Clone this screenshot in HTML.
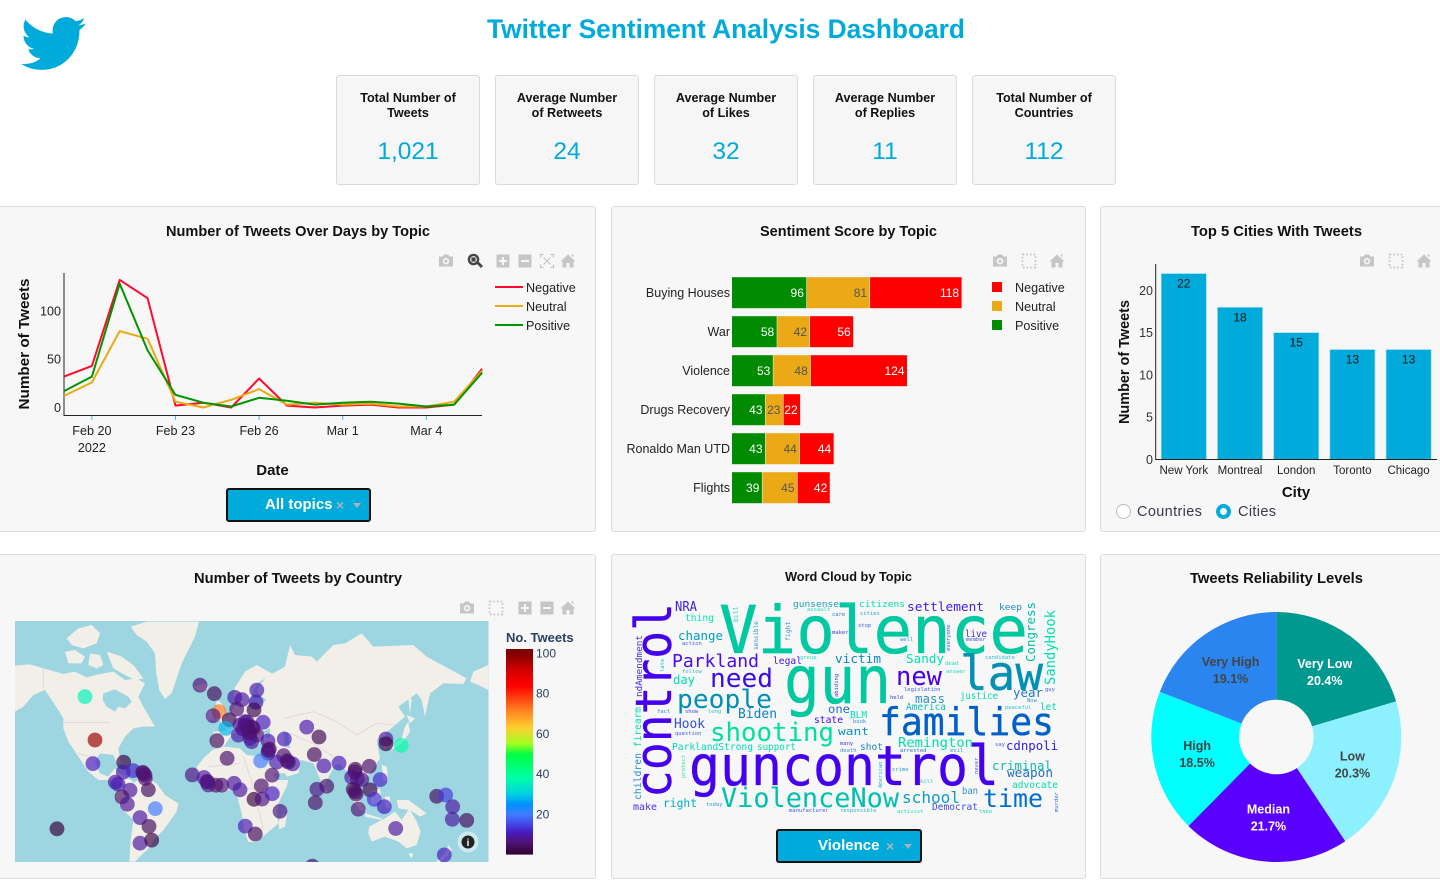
<!DOCTYPE html>
<html lang="en">
<head>
<meta charset="utf-8">
<title>Twitter Sentiment Analysis Dashboard</title>
<style>
html,body{margin:0;padding:0;background:#fff;}
body{position:relative;width:1440px;height:891px;overflow:hidden;font-family:"Liberation Sans",sans-serif;color:#222;}
.card{position:absolute;background:#f7f7f7;border:1px solid #dcdcdc;border-radius:3px;box-sizing:border-box;overflow:hidden;}
.card svg{position:absolute;left:-1px;top:-1px;}
.kpi{position:absolute;top:75px;width:144px;height:110px;background:#f6f6f6;border:1px solid #dadada;border-radius:3px;box-sizing:border-box;text-align:center;}
.kpi-label{position:absolute;left:0;right:0;top:15px;font-weight:bold;font-size:12.6px;line-height:15px;color:#111;}
.kpi-value{position:absolute;left:0;right:0;top:61px;font-size:24.5px;line-height:30px;color:#00abdc;}
.dropdown{position:absolute;height:34px;background:#00abdc;border:2px solid #111;border-radius:3px;box-sizing:border-box;color:#fff;font-weight:bold;font-size:15px;line-height:30px;}
.dropdown .lab{position:absolute;top:0;}
.dropdown .clr{position:absolute;top:0;color:#a9b4b8;font-size:14px;}
.dropdown .car{position:absolute;top:13px;width:0;height:0;border:4px solid transparent;border-top:5px solid #a9b4b8;border-bottom:0;}
.radio{position:absolute;width:15px;height:15px;border-radius:50%;box-sizing:border-box;background:#fff;border:1px solid #bbb;}
.radio.on{border:4px solid #00abdc;}
.radio-label{position:absolute;font-size:14.5px;line-height:18px;color:#3a3a4a;letter-spacing:.35px;}
text{font-family:"Liberation Sans",sans-serif;}
.tool{color:#c6c6c6;}
#cloud text{font-family:"DejaVu Sans Mono","Liberation Mono",monospace;}
#cloud .big{stroke-width:.35;}
</style>
</head>
<body>

<svg width="0" height="0" style="position:absolute">
  <symbol id="i-cam" viewBox="-8 -8 16 16"><path fill="currentColor" fill-rule="evenodd" d="M-7-4.5h3.5L-2-6.5h4L3.5-4.5H7V5.5H-7ZM0-3a3.2 3.2 0 1 0 .01 0ZM0-1.4a1.6 1.6 0 1 1-.01 0Z"/></symbol>
  <symbol id="i-zoom" viewBox="-8 -8 16 16"><circle cx="-1.5" cy="-1.5" r="4.6" fill="none" stroke="currentColor" stroke-width="2.4"/><rect x="-3.6" y="-3.6" width="4.2" height="4.2" fill="currentColor"/><path d="M2-.0L7 5" transform="translate(0 1)" stroke="currentColor" stroke-width="2.8"/></symbol>
  <symbol id="i-plus" viewBox="-8 -8 16 16"><path fill="currentColor" fill-rule="evenodd" d="M-6.5-6.5h13v13h-13ZM-1-4v3h-3v2h3v3h2V1h3v-2H1v-3Z"/></symbol>
  <symbol id="i-minus" viewBox="-8 -8 16 16"><path fill="currentColor" fill-rule="evenodd" d="M-6.5-6.5h13v13h-13ZM-4-1v2h8v-2Z"/></symbol>
  <symbol id="i-auto" viewBox="-8 -8 16 16"><path fill="none" stroke="currentColor" stroke-width="1.2" d="M-6.500-3.500v-3h3M3.500-6.500h3v3M6.500 3.500v3h-3M-3.500 6.500h-3v-3M-3.500-3.500 3.500 3.500M3.500-3.500-3.500 3.500"/></symbol>
  <symbol id="i-home" viewBox="-8 -8 16 16"><path fill="currentColor" d="M0-6.5 7.5 0.5H5.5V6.5H1.5V2H-1.5V6.5H-5.5V0.5H-7.5ZM3.5-6.5h2v3l-2-2Z"/></symbol>
  <symbol id="i-box" viewBox="-8 -8 16 16"><rect x="-6.5" y="-6.5" width="13" height="13" fill="none" stroke="currentColor" stroke-width="1.7" stroke-dasharray="1.7 2"/></symbol>
</svg>

<svg style="position:absolute;left:21px;top:11px" width="65" height="65" viewBox="0 0 24 24"><path fill="#00abdc" d="M23.953 4.57a10 10 0 01-2.825.775 4.958 4.958 0 002.163-2.723c-.951.555-2.005.959-3.127 1.184a4.92 4.92 0 00-8.384 4.482C7.69 8.095 4.067 6.13 1.64 3.162a4.822 4.822 0 00-.666 2.475c0 1.71.87 3.213 2.188 4.096a4.904 4.904 0 01-2.228-.616v.06a4.923 4.923 0 003.946 4.827 4.996 4.996 0 01-2.212.085 4.936 4.936 0 004.604 3.417 9.867 9.867 0 01-6.102 2.105c-.39 0-.779-.023-1.17-.067a13.995 13.995 0 007.557 2.209c9.053 0 13.998-7.496 13.998-13.985 0-.21 0-.42-.015-.63A9.935 9.935 0 0024 4.59z"/></svg>

<svg style="position:absolute;left:400px;top:8px" width="660" height="44" viewBox="400 8 660 44"><text x="487" y="38" font-size="27" font-weight="bold" fill="#00abdc" textLength="478" lengthAdjust="spacingAndGlyphs">Twitter Sentiment Analysis Dashboard</text></svg>

<div class="kpi" style="left:336px"><div class="kpi-label">Total Number of<br>Tweets</div><div class="kpi-value">1,021</div></div>
<div class="kpi" style="left:495px"><div class="kpi-label">Average Number<br>of Retweets</div><div class="kpi-value">24</div></div>
<div class="kpi" style="left:654px"><div class="kpi-label">Average Number<br>of Likes</div><div class="kpi-value">32</div></div>
<div class="kpi" style="left:813px"><div class="kpi-label">Average Number<br>of Replies</div><div class="kpi-value">11</div></div>
<div class="kpi" style="left:972px"><div class="kpi-label">Total Number of<br>Countries</div><div class="kpi-value">112</div></div>

<!-- Line chart card -->
<div class="card" style="left:-1px;top:206px;width:597px;height:326px">
<svg id="lineSvg" width="597" height="326" viewBox="-1 206 597 326">
  <text x="166" y="236" font-size="15" font-weight="bold" fill="#111" textLength="264" lengthAdjust="spacingAndGlyphs">Number of Tweets Over Days by Topic</text>
  <g class="tool">
    <use href="#i-cam" x="438" y="253" width="16" height="16"/>
    <use href="#i-zoom" x="467" y="253" width="16" height="16" style="color:#444"/>
    <use href="#i-plus" x="495" y="253" width="16" height="16"/>
    <use href="#i-minus" x="517" y="253" width="16" height="16"/>
    <use href="#i-auto" x="539" y="253" width="16" height="16"/>
    <use href="#i-home" x="560" y="253" width="16" height="16"/>
  </g>
  <text transform="rotate(-90 29 344)" x="29" y="344" font-size="15" font-weight="bold" text-anchor="middle" fill="#111" textLength="131" lengthAdjust="spacingAndGlyphs">Number of Tweets</text>
  <text x="272.500" y="475" font-size="15" font-weight="bold" text-anchor="middle" fill="#111">Date</text>
</svg>
</div>
<div class="dropdown" style="left:226px;top:488px;width:145px"><span class="lab" style="left:37px">All topics</span><span class="clr" style="left:108px">×</span><span class="car" style="left:125px"></span></div>

<!-- Sentiment card -->
<div class="card" style="left:611px;top:206px;width:475px;height:326px">
<svg id="barSvg" width="475" height="326" viewBox="611 206 475 326">
  <text x="760" y="236" font-size="15" font-weight="bold" fill="#111" textLength="177" lengthAdjust="spacingAndGlyphs">Sentiment Score by Topic</text>
  <g class="tool">
    <use href="#i-cam" x="992" y="253" width="16" height="16"/>
    <use href="#i-box" x="1021" y="253" width="16" height="16"/>
    <use href="#i-home" x="1049" y="253" width="16" height="16"/>
  </g>
</svg>
</div>

<!-- Cities card -->
<div class="card" style="left:1100px;top:206px;width:345px;height:326px">
<svg id="citySvg" width="345" height="326" viewBox="1100 206 345 326">
  <text x="1191" y="236" font-size="15" font-weight="bold" fill="#111" textLength="171" lengthAdjust="spacingAndGlyphs">Top 5 Cities With Tweets</text>
  <g class="tool">
    <use href="#i-cam" x="1359" y="253" width="16" height="16"/>
    <use href="#i-box" x="1388" y="253" width="16" height="16"/>
    <use href="#i-home" x="1416" y="253" width="16" height="16"/>
  </g>
  <text transform="rotate(-90 1129 362)" x="1129" y="362" font-size="15" font-weight="bold" text-anchor="middle" fill="#111" textLength="124" lengthAdjust="spacingAndGlyphs">Number of Tweets</text>
  <text x="1296" y="497" font-size="15" font-weight="bold" text-anchor="middle" fill="#111">City</text>
</svg>
</div>
<div class="radio" style="left:1116px;top:504px"></div>
<div class="radio-label" style="left:1137px;top:503px">Countries</div>
<div class="radio on" style="left:1216px;top:504px"></div>
<div class="radio-label" style="left:1238px;top:503px">Cities</div>

<!-- Map card -->
<div class="card" style="left:-1px;top:554px;width:597px;height:325px">
<svg id="mapSvg" width="597" height="325" viewBox="-1 554 597 325">
  <defs><clipPath id="mapClip"><rect x="15" y="621" width="473.500" height="241"/></clipPath></defs>
  <text x="194" y="583" font-size="15" font-weight="bold" fill="#111" textLength="208" lengthAdjust="spacingAndGlyphs">Number of Tweets by Country</text>
  <g class="tool">
    <use href="#i-cam" x="459" y="600" width="16" height="16"/>
    <use href="#i-box" x="488" y="600" width="16" height="16"/>
    <use href="#i-plus" x="517" y="600" width="16" height="16"/>
    <use href="#i-minus" x="539" y="600" width="16" height="16"/>
    <use href="#i-home" x="560" y="600" width="16" height="16"/>
  </g>
  <g clip-path="url(#mapClip)" id="mapLayer">
    <rect x="15" y="621" width="474" height="241" fill="#9dd5e1"/>
    <g transform="translate(0 600) scale(.33333)" fill="#f2efe9">
      <polygon points="45,197 90,193 130,205 190,222 225,215 260,232 300,222 340,215 375,240 410,235 435,250 415,290 430,320 465,380 430,380 400,385 375,410 355,445 362,490 350,490 340,465 300,460 285,485 300,520 325,530 345,505 360,520 385,535 400,545 395,555 365,550 330,540 295,540 265,515 235,470 205,425 190,385 190,355 165,315 135,270 100,285 70,320 45,335"/>
      <polygon points="200,115 235,85 275,75 300,100 290,130 250,145 215,135"/>
      <polygon points="195,155 225,150 255,170 245,190 205,190"/>
      <polygon points="270,160 300,165 310,195 290,205 265,195"/>
      <polygon points="320,155 365,170 400,195 430,235 405,240 375,225 340,205"/>
      <polygon points="392,80 440,65 597,65 585,110 545,190 515,280 495,297 478,270 468,215 465,160 440,125 410,105"/>
      <polygon points="395,552 430,530 470,550 495,585 535,610 530,635 505,670 490,690 465,715 445,745 420,770 405,785 388,785 392,720 400,660 365,625 345,590 360,565 375,555"/>
      <polygon points="640,448 675,440 720,445 740,465 790,470 800,480 830,540 865,540 860,560 835,610 830,640 835,670 800,700 770,726 745,726 732,690 725,640 712,590 695,570 650,575 605,560 590,530 590,500 615,470"/>
      <polygon points="848,642 862,640 855,680 838,688 835,665"/>
      <polygon points="900,215 865,235 835,255 845,235 815,220 770,195 735,215 705,262 700,285 715,312 700,322 690,345 660,362 680,392 640,395 632,430 645,445 672,438 695,405 720,390 745,425 755,420 775,438 790,405 795,440 840,440 835,470 860,530 895,520 900,500"/>
      <polygon points="650,300 665,310 680,350 650,365 648,335"/><polygon points="622,335 640,330 640,360 620,362"/><polygon points="580,260 615,250 625,265 600,275"/>
      <polygon fill="#9dd5e1" points="310,280 345,268 385,290 395,305 375,325 355,320 345,335 320,320 308,300"/>
      <polygon fill="#9dd5e1" points="745,325 750,295 772,250 795,235 770,270 785,290 800,300 780,312 775,330"/>
      <polygon fill="#9dd5e1" points="790,395 820,380 860,395 870,410 830,405 800,415"/>
      <path fill="none" stroke="#e2d2da" stroke-width="2.500" d="M130 205V265M190 368H330M235 460L300 480M625 500L720 490M730 470L760 560M700 560L800 570M760 560L790 690"/>
    </g>
    <g transform="translate(270 600) scale(.33333)" fill="#f2efe9">
      <polygon points="0,225 45,200 60,135 75,165 125,170 140,185 190,135 225,130 275,100 310,140 430,135 470,170 590,235 580,252 520,250 480,280 465,350 455,300 440,280 385,320 405,350 360,388 345,400 360,430 345,447 328,425 335,410 320,420 330,475 300,520 270,550 262,530 245,590 268,610 235,560 235,520 210,490 195,495 160,560 130,490 95,480 75,490 50,520 20,520 0,520"/>
      <polygon points="235,565 258,585 290,635 270,630 235,585"/><polygon points="285,640 335,655 335,660 285,650"/><polygon points="300,575 330,565 335,600 305,615"/><polygon points="345,590 360,590 360,625 345,620"/><polygon points="335,495 350,500 355,545 340,540"/><polygon points="380,600 415,600 470,640 450,650 420,630 385,625"/><polygon points="415,365 420,395 400,425 365,450 360,440 395,415 405,380"/><polygon points="410,345 435,355 420,370"/><polygon points="415,295 425,295 420,345"/><polygon points="165,560 175,575 165,580"/>
      <polygon points="297,680 345,655 375,635 395,660 418,625 440,665 452,695 440,735 410,745 385,725 345,710 305,725 295,700"/><polygon points="415,760 430,760 425,775"/><polygon points="535,735 545,750 530,770 500,795 495,790 525,760"/><polygon points="610,215 655,195 655,270 625,255 600,245"/>
      <polygon fill="#9dd5e1" points="40,395 55,400 60,445 45,440"/>
      <path fill="none" stroke="#e2d2da" stroke-width="2.500" d="M40 355L130 335L200 365L260 405L320 370L375 375M60 400L130 430L190 470"/>
    </g>
  </g>
  <circle cx="468" cy="842" r="10.500" fill="#fff" fill-opacity=".5"/>
  <circle cx="468" cy="842" r="6.500" fill="#222"/>
  <text x="468" y="846" font-size="10" font-weight="bold" text-anchor="middle" fill="#fff">i</text>
  <text x="506" y="642" font-size="13" font-weight="bold" fill="#2a3f5f">No. Tweets</text>
</svg>
</div>

<!-- Word cloud card -->
<div class="card" style="left:611px;top:554px;width:475px;height:325px">
<svg id="cloud" width="475" height="325" viewBox="611 554 475 325">
  <defs><filter id="soft" x="-2%" y="-2%" width="104%" height="104%"><feGaussianBlur stdDeviation=".35"/></filter></defs>
  <text x="785" y="581" font-size="13" font-weight="bold" fill="#111" textLength="127" lengthAdjust="spacingAndGlyphs" style="font-family:'Liberation Sans',sans-serif">Word Cloud by Topic</text>
  <g filter="url(#soft)">
    <text class="big" x="719" y="653" font-size="66" fill="#00c8a0" stroke="#00c8a0" textLength="309" lengthAdjust="spacingAndGlyphs">Violence</text>
    <text class="big" x="784" y="703" font-size="66" fill="#00c8a0" stroke="#00c8a0" textLength="107" lengthAdjust="spacingAndGlyphs">gun</text>
    <text class="big" x="960" y="690" font-size="48" fill="#0090b4" stroke="#0090b4" textLength="83" lengthAdjust="spacingAndGlyphs">law</text>
    <text class="big" x="879" y="735" font-size="38" fill="#0060c8" stroke="#0060c8" textLength="175" lengthAdjust="spacingAndGlyphs">families</text>
    <text class="big" x="689" y="785" font-size="55" fill="#4400f0" stroke="#4400f0" textLength="310" lengthAdjust="spacingAndGlyphs">guncontrol</text>
    <text class="big" x="671" y="798" transform="rotate(-90 671 798)" font-size="50" fill="#4400f0" stroke="#4400f0" textLength="195" lengthAdjust="spacingAndGlyphs">control</text>
    <text x="710" y="687" font-size="26" fill="#3a10e0" textLength="63" lengthAdjust="spacingAndGlyphs">need</text>
    <text x="677" y="708" font-size="26" fill="#0090b4" textLength="95" lengthAdjust="spacingAndGlyphs">people</text>
    <text x="710" y="741" font-size="26" fill="#00e0a0" textLength="124" lengthAdjust="spacingAndGlyphs">shooting</text>
    <text x="721" y="807" font-size="27" fill="#00c0b0" textLength="178" lengthAdjust="spacingAndGlyphs">ViolenceNow</text>
    <text x="672" y="667" font-size="18" fill="#4a10f0" textLength="87" lengthAdjust="spacingAndGlyphs">Parkland</text>
    <text x="678" y="640" font-size="12.500" fill="#00a0b8" textLength="45" lengthAdjust="spacingAndGlyphs">change</text>
    <text x="675" y="611" font-size="13" fill="#3a20d8" textLength="22" lengthAdjust="spacingAndGlyphs">NRA</text>
    <text x="685" y="621" font-size="9.500" fill="#00e8b0" textLength="29" lengthAdjust="spacingAndGlyphs">thing</text>
    <text x="673" y="684" font-size="12" fill="#00e0b0" textLength="22" lengthAdjust="spacingAndGlyphs">day</text>
    <text x="738" y="718" font-size="13" fill="#1080c8" textLength="39" lengthAdjust="spacingAndGlyphs">Biden</text>
    <text x="674" y="728" font-size="13" fill="#3050d8" textLength="31" lengthAdjust="spacingAndGlyphs">Hook</text>
    <text x="672" y="750" font-size="9.500" fill="#00d8c0" textLength="81" lengthAdjust="spacingAndGlyphs">ParklandStrong</text>
    <text x="757" y="750" font-size="9.500" fill="#00e0b0" textLength="39" lengthAdjust="spacingAndGlyphs">support</text>
    <text x="663" y="807" font-size="11.500" fill="#00b0c0" textLength="34" lengthAdjust="spacingAndGlyphs">right</text>
    <text x="633" y="810" font-size="9.500" fill="#5030e0" textLength="24" lengthAdjust="spacingAndGlyphs">make</text>
    <text x="773" y="664" font-size="9.500" fill="#4818e8" textLength="29" lengthAdjust="spacingAndGlyphs">legal</text>
    <text x="828" y="713" font-size="11.500" fill="#2070c8" textLength="22" lengthAdjust="spacingAndGlyphs">one</text>
    <text x="814" y="723" font-size="9.500" fill="#4010e8" textLength="29" lengthAdjust="spacingAndGlyphs">state</text>
    <text x="835" y="663" font-size="12" fill="#1088c0" textLength="46" lengthAdjust="spacingAndGlyphs">victim</text>
    <text x="793" y="607" font-size="8.500" fill="#20a0b8" textLength="46" lengthAdjust="spacingAndGlyphs">gunsense</text>
    <text x="859" y="607" font-size="8.500" fill="#00e0a8" textLength="46" lengthAdjust="spacingAndGlyphs">citizens</text>
    <text x="907" y="611" font-size="12" fill="#4020e0" textLength="77" lengthAdjust="spacingAndGlyphs">settlement</text>
    <text x="999" y="610" font-size="9" fill="#2090c8" textLength="23" lengthAdjust="spacingAndGlyphs">keep</text>
    <text x="1035" y="662" transform="rotate(-90 1035 662)" font-size="12.500" fill="#00c0a8" textLength="60" lengthAdjust="spacingAndGlyphs">Congress</text>
    <text x="1055" y="685" transform="rotate(-90 1055 685)" font-size="14" fill="#00e0b8" textLength="75" lengthAdjust="spacingAndGlyphs">SandyHook</text>
    <text x="965" y="637" font-size="9.500" fill="#4828d8" textLength="22" lengthAdjust="spacingAndGlyphs">live</text>
    <text x="906" y="663" font-size="12.500" fill="#00e0b0" textLength="38" lengthAdjust="spacingAndGlyphs">Sandy</text>
    <text x="896" y="685" font-size="26" fill="#4800e8" textLength="46" lengthAdjust="spacingAndGlyphs">new</text>
    <text x="915" y="703" font-size="12.500" fill="#3090c0" textLength="30" lengthAdjust="spacingAndGlyphs">mass</text>
    <text x="960" y="699" font-size="9.500" fill="#00e0b0" textLength="38" lengthAdjust="spacingAndGlyphs">justice</text>
    <text x="1013" y="697" font-size="12.500" fill="#2078c8" textLength="30" lengthAdjust="spacingAndGlyphs">year</text>
    <text x="1040" y="710" font-size="9.500" fill="#00d8b0" textLength="17" lengthAdjust="spacingAndGlyphs">let</text>
    <text x="906" y="710" font-size="9.500" fill="#10b8b8" textLength="40" lengthAdjust="spacingAndGlyphs">America</text>
    <text x="850" y="718" font-size="10" fill="#00e0c0" textLength="17" lengthAdjust="spacingAndGlyphs">BLM</text>
    <text x="838" y="735" font-size="11" fill="#1090c0" textLength="31" lengthAdjust="spacingAndGlyphs">want</text>
    <text x="860" y="750" font-size="9.500" fill="#2080c8" textLength="23" lengthAdjust="spacingAndGlyphs">shot</text>
    <text x="898" y="747" font-size="13.500" fill="#00e0a8" textLength="75" lengthAdjust="spacingAndGlyphs">Remington</text>
    <text x="1006" y="750" font-size="12" fill="#3020e8" textLength="52" lengthAdjust="spacingAndGlyphs">cdnpoli</text>
    <text x="992" y="770" font-size="12" fill="#10b8b0" textLength="60" lengthAdjust="spacingAndGlyphs">criminal</text>
    <text x="1007" y="777" font-size="12" fill="#2070c8" textLength="46" lengthAdjust="spacingAndGlyphs">weapon</text>
    <text x="1012" y="788" font-size="9.500" fill="#00e0a8" textLength="46" lengthAdjust="spacingAndGlyphs">advocate</text>
    <text x="902" y="803" font-size="16" fill="#10a0c0" textLength="58" lengthAdjust="spacingAndGlyphs">school</text>
    <text x="983" y="807" font-size="25" fill="#0070d0" textLength="60" lengthAdjust="spacingAndGlyphs">time</text>
    <text x="962" y="794" font-size="9.500" fill="#3090c8" textLength="16" lengthAdjust="spacingAndGlyphs">ban</text>
    <text x="932" y="810" font-size="9.500" fill="#4050d8" textLength="46" lengthAdjust="spacingAndGlyphs">Democrat</text>
    <text x="642" y="697" transform="rotate(-90 642 697)" font-size="9" fill="#4030e0" textLength="62" lengthAdjust="spacingAndGlyphs">ndAmendment</text>
    <text x="641" y="747" transform="rotate(-90 641 747)" font-size="9.500" fill="#00e0b0" textLength="40" lengthAdjust="spacingAndGlyphs">firearm</text>
    <text x="641" y="800" transform="rotate(-90 641 800)" font-size="9.500" fill="#2090c8" textLength="47" lengthAdjust="spacingAndGlyphs">children</text>
    <g font-size="5.500" fill="#5088e0">
      <text x="682" y="645" fill="#4060e0">action</text>
      <text x="682" y="673" fill="#30b8d0">follow</text>
      <text x="657" y="713" fill="#3090d0">fact</text>
      <text x="685" y="713" fill="#5040e0">show</text>
      <text x="708" y="713" fill="#30c0d0">long</text>
      <text x="675" y="735" fill="#4060e0">question</text>
      <text x="706" y="806" fill="#30a0d0">today</text>
      <text x="789" y="812" fill="#4060e0">manufacturer</text>
      <text x="840" y="812" fill="#30b0d0">responsible</text>
      <text x="807" y="611" fill="#20e0c0">assault</text>
      <text x="800" y="659" fill="#20e0c0">group</text>
      <text x="860" y="615" fill="#30a0d0">cities</text>
      <text x="858" y="627" fill="#4060e0">stop</text>
      <text x="832" y="616" fill="#3080d0">care</text>
      <text x="832" y="634" fill="#4040e0">maker</text>
      <text x="900" y="641" fill="#3090d0">well</text>
      <text x="966" y="641" fill="#4060e0">member</text>
      <text x="985" y="659" fill="#30c0d0">candidate</text>
      <text x="945" y="665" fill="#20e0b0">dead</text>
      <text x="946" y="673" fill="#20e0b0">answer</text>
      <text x="904" y="691" fill="#4060e0">legislation</text>
      <text x="890" y="699" fill="#4040e0">held</text>
      <text x="1027" y="702" fill="#3090d0">Now</text>
      <text x="1005" y="709" fill="#30c0d0">peaceful</text>
      <text x="1045" y="691" fill="#4060e0">guy</text>
      <text x="853" y="723" fill="#3090d0">book</text>
      <text x="995" y="746" fill="#4060e0">say</text>
      <text x="840" y="745" fill="#4040e0">many</text>
      <text x="840" y="752" fill="#4090d0">death</text>
      <text x="900" y="752" fill="#3070d0">arrested</text>
      <text x="950" y="752" fill="#3090d0">evil</text>
      <text x="892" y="771" fill="#30a0d0">crime</text>
      <text x="920" y="783" fill="#20d0b0">kill</text>
      <text x="897" y="813" fill="#20e0b0">activist</text>
      <text x="979" y="813" fill="#30d0d0">take</text>
      <text x="738" y="622" transform="rotate(-90 738 622)" font-size="6.500" fill="#20d0b0">bill</text>
      <text x="758" y="650" transform="rotate(-90 758 650)" font-size="6" fill="#3090d0">sensible</text>
      <text x="790" y="641" transform="rotate(-90 790 641)" font-size="6.500" fill="#3090d0">fight</text>
      <text x="838" y="697" transform="rotate(-90 838 697)" fill="#4040e0">abiding</text>
      <text x="685" y="778" transform="rotate(-90 685 778)" fill="#20e0b0">protect</text>
      <text x="664" y="672" transform="rotate(-90 664 672)" fill="#20c0d0">late</text>
      <text x="950" y="651" transform="rotate(-90 950 651)" fill="#4050e0">everyone</text>
      <text x="978" y="774" transform="rotate(-90 978 774)" fill="#4060e0">never</text>
      <text x="882" y="788" transform="rotate(-90 882 788)" fill="#30b0d0">American</text>
      <text x="1058" y="812" transform="rotate(-90 1058 812)" fill="#3070d0">murder</text>
    </g>
  </g>
</svg>
</div>
<div class="dropdown" style="left:776px;top:829px;width:146px"><span class="lab" style="left:40px">Violence</span><span class="clr" style="left:108px">×</span><span class="car" style="left:126px"></span></div>

<!-- Pie card -->
<div class="card" style="left:1100px;top:554px;width:345px;height:325px">
<svg id="pieSvg" width="345" height="325" viewBox="1100 554 345 325">
  <text x="1190" y="583" font-size="15" font-weight="bold" fill="#111" textLength="173" lengthAdjust="spacingAndGlyphs">Tweets Reliability Levels</text>
</svg>
</div>

<script>
/* ---------- line chart data ---------- */
const lineDates = ['2022-02-19','2022-02-20','2022-02-21','2022-02-22','2022-02-23','2022-02-24','2022-02-25','2022-02-26','2022-02-27','2022-02-28','2022-03-01','2022-03-02','2022-03-03','2022-03-04','2022-03-05','2022-03-06'];
const lineNegative = [32,43,132,113,2,5,0,30,2,0,2,3,0,0,3,40];
const lineNeutral = [12,26,79,71,6,0,8,19,3,5,3,4,1,1,6,38];
const linePositive = [17,32,128,59,13,5,1,10,7,3,5,6,4,1,3,36];
const lineYTicks = [0,50,100];
const lineXTickDates = ['2022-02-20','2022-02-23','2022-02-26','2022-03-01','2022-03-04'];
const lineXTickLabels = ['Feb 20','Feb 23','Feb 26','Mar 1','Mar 4'];
const lineSeriesNames = ['Negative','Neutral','Positive'];

/* ---------- sentiment bars data ---------- */
const barTopics = ['Buying Houses','War','Violence','Drugs Recovery','Ronaldo Man UTD','Flights'];
const barPositive = [96,58,53,43,43,39];
const barNeutral = [81,42,48,23,44,45];
const barNegative = [118,56,124,22,44,42];

/* ---------- cities data ---------- */
const cityNames = ['New York','Montreal','London','Toronto','Chicago'];
const cityTweets = [22,18,15,13,13];
const cityYTicks = [0,5,10,15,20];

/* ---------- map data ---------- */
const mapLons = [-17,-5.9,9.8,15.4,26.8,26.2,24.7,11.3,-2.3,-6.9,5.6,2.9,-3.9,31.8,13.9,19.5,20.3,24.1,17.7,12.6,21.6,26.8,22.9,35.5,48,36.5,35.5,29.8,47.6,42.2,50.3,54.5,3.9,38.6,-22.9,-13.9,-11,-10.6,-4.6,-0.2,9.3,13.9,30.3,24.7,31,38.8,44.7,18,25.7,-105.6,-97.9,-99.5,-75.8,-76.1,-68.4,-61.1,-59.4,-59.1,-82.3,-80.2,-70.9,-56.8,-77.1,-73,-51.4,-63.2,-56.3,-63.2,-54.2,-127.2,65.3,74.8,71.2,78.6,90.2,113.6,102.8,100,104.3,107.7,122,80.7,73.2,71.9,101.2,103.3,114.1,117.4,125.1,105,126.4,126.4,138.2,133.9,165.5,172.5,177.9,177.6,188.7,171.4,69.6,17.7,20,16.2,21.6,19.3,23.1,51.1,35.7,-60.7,-11.8,102.5,102.5];
const mapLats = [64.3,61.3,59.9,59,62.6,58,54.7,55,53.9,52,50,45.6,38.6,48.8,47.4,46.5,43.7,45.6,49.1,41.9,40,41.9,38,38.4,39.6,33.4,30.7,25.4,29,24.5,25.6,23.3,27.2,15.1,15.3,13.4,10.2,7.7,7.5,7.5,9,4,7,-3.3,-3.1,1,-12.5,-23.3,-28.8,60.2,39,23.5,24.5,17.4,18.4,17.2,15.2,12.7,9.9,8.4,3.7,4,-1.5,-7.1,-10.4,-17.2,-23.5,-34.8,-32.8,-25.2,46.3,40.8,29.8,21.9,23.8,21.6,19.4,13.6,12.3,11.8,11.8,6.8,4.4,-5.9,4.4,0.8,3.9,-3.3,-9,-10.8,39.6,36.7,35.7,-25,-1,0,-9,-18.4,-19.2,-41.9,-48,47.4,45.2,45.2,43,49,46.3,24.5,32.4,16.4,10.2,17.5,2.5];
const mapTweets = [6,4,9,9,10,10,3,6,72,7,3,28,4,11,9,5,9,8,9,10,7,6,9,10,11,4,9,20,6,10,5,10,5,6,7,9,5,8,5,6,9,9,5,2,7,11,7,10,4,36,97,11,2,10,12,3,5,6,10,10,9,4,5,8,20,9,4,9,2,1,10,3,4,10,11,5,3,9,8,7,12,5,7,5,4,4,3,13,11,6,9,2,38,9,4,14,9,9,4,11,5,6,5,7,6,7,5,5,6,6,7,5,5];
const colorbarTicks = [20,40,60,80,100];

/* ---------- donut data ---------- */
const pieLabels = ['Very Low','Low','Median','High','Very High'];
const pieShares = [20.4,20.3,21.7,18.5,19.1];

const NS = 'http://www.w3.org/2000/svg';
function mk(tag, attrs, parent, txt){
  const el = document.createElementNS(NS, tag);
  for (const k in attrs) el.setAttribute(k, attrs[k]);
  if (txt !== undefined) el.textContent = txt;
  parent.appendChild(el);
  return el;
}
const INK = '#222';
const TICK = 12.6;

/* ---------- line chart ---------- */
(function(){
  const svg = document.getElementById('lineSvg');
  const day = d => Date.parse(d + 'T00:00:00Z') / 864e5;
  const d0 = day(lineDates[0]);
  const xLine = d => 64 + (day(d) - d0) * 27.87;
  const yLine = v => 407.5 - v * 0.967;
  let el;
  lineYTicks.forEach(t => {
    el = mk('text', {x:61, y:yLine(t)+4.5, 'font-size':TICK, 'text-anchor':'end', fill:INK}, svg, t);
    
    
  });
  lineXTickDates.forEach((d,i) => {
    el = mk('line', {x1:xLine(d), x2:xLine(d), y1:415, y2:420, stroke:'#3fc1d0', 'stroke-width':1}, svg);
    
    
    el = mk('text', {x:xLine(d), y:435, 'font-size':TICK, 'text-anchor':'middle', fill:INK}, svg, lineXTickLabels[i]);
    
    
  });
  el = mk('text', {x:xLine(lineXTickDates[0]), y:452, 'font-size':TICK, 'text-anchor':'middle', fill:INK}, svg, '2022');
  
  
  el = mk('path', {d:'M64 273V415.500H482', fill:'none', stroke:'#222', 'stroke-width':1}, svg);
  
  
  const series = [lineNegative, lineNeutral, linePositive];
  const colors = ['#ff0a2a','#eba916','#009400'];
  series.forEach((vals,s) => {
    const pts = vals.map((v,i) => xLine(lineDates[i]).toFixed(1) + ',' + yLine(v).toFixed(1)).join(' ');
    el = mk('polyline', {points:pts, fill:'none', stroke:colors[s], 'stroke-width':2, 'stroke-linejoin':'round'}, svg);
    
    
    el = mk('line', {x1:495, x2:523, y1:287+s*19, y2:287+s*19, stroke:colors[s], 'stroke-width':2}, svg);
    
    
    el = mk('text', {x:526, y:292+s*19, 'font-size':TICK, fill:INK}, svg, lineSeriesNames[s]);
    
    
  });
})();

/* ---------- stacked bars ---------- */
(function(){
  const svg = document.getElementById('barSvg');
  const xBar = v => 732 + v * 0.78;
  const yBar = i => 292.7 + i * 39;
  const names = ['Positive','Neutral','Negative'];
  const cols = ['#008b00','#eba916','#ff0000'];
  const txt = ['#fff','#555','#fff'];
  const stacks = [barPositive, barNeutral, barNegative];
  let el;
  barTopics.forEach((t,i) => {
    el = mk('text', {x:730, y:yBar(i)+4.5, 'font-size':12.5, 'text-anchor':'end', fill:INK}, svg, t);
    
    
    let acc = 0;
    stacks.forEach((arr,s) => {
      const v = arr[i];
      el = mk('rect', {x:xBar(acc), y:yBar(i)-15.5, width:Math.max(0,xBar(v)-732-0.5), height:31, fill:cols[s]}, svg);
      
      
      acc += v;
      el = mk('text', {x:xBar(acc)-3, y:yBar(i)+4.5, 'font-size':12, 'text-anchor':'end', fill:txt[s]}, svg, v);
      
      
    });
  });
  ['Negative','Neutral','Positive'].forEach((n,k) => {
    el = mk('rect', {x:992, y:282+k*19, width:10, height:10, fill:cols[2-k]}, svg);
    
    
    el = mk('text', {x:1015, y:292+k*19, 'font-size':TICK, fill:INK}, svg, n);
    
    
  });
})();

/* ---------- city bars ---------- */
(function(){
  const svg = document.getElementById('citySvg');
  const yCity = v => 459.3 - v * 8.44;
  const xCity = i => 1183.8 + i * 56.2;
  let el;
  cityYTicks.forEach(t => {
    el = mk('text', {x:1153, y:yCity(t)+4.5, 'font-size':12.5, 'text-anchor':'end', fill:'#333'}, svg, t);
    
    
  });
  cityNames.forEach((c,i) => {
    const v = cityTweets[i];
    el = mk('rect', {x:xCity(i)-22.5, y:yCity(v), width:45, height:459.3-yCity(v), fill:'#00abdc', stroke:'#8ed6ec', 'stroke-width':.6}, svg);
    
    
    el = mk('text', {x:xCity(i), y:yCity(v)+14, 'font-size':12, 'text-anchor':'middle', fill:'#111'}, svg, v);
    
    
    el = mk('text', {x:xCity(i), y:474, 'font-size':11.5, 'text-anchor':'middle', fill:INK}, svg, c);
    
    
  });
  el = mk('path', {d:'M1155.700 264V459.500H1437', fill:'none', stroke:'#222', 'stroke-width':1}, svg);
  
  
})();

/* ---------- map bubbles + colorbar ---------- */
(function(){
  const svg = document.getElementById('mapSvg');
  const layer = document.getElementById('mapLayer');
  const xMap = lon => 222 + lon * 1.297;
  const yMap = lat => 795 - 74.3 * Math.log(Math.tan(Math.PI/4 + lat*Math.PI/360));
  const scaleStops = [[0,48,0,48],[6,80,19,118],[11,72,26,188],[15,69,69,232],[20,63,124,255],[25,0,144,255],[30,0,208,224],[38,0,255,168],[50,0,255,64],[55,160,255,32],[63,255,208,48],[72,255,128,32],[84,255,0,0],[92,208,0,0],[100,128,0,0]];
  function colorOf(v){
    v = Math.max(0, Math.min(100, v));
    for (let i = 1; i < scaleStops.length; i++){
      const a = scaleStops[i-1], b = scaleStops[i];
      if (v <= b[0]){
        const f = (v-a[0])/(b[0]-a[0]);
        return 'rgb(' + [1,2,3].map(k => Math.round(a[k]+(b[k]-a[k])*f)).join(',') + ')';
      }
    }
    return 'rgb(128,0,0)';
  }
  let el;
  mapLons.forEach((lon,i) => {
    el = mk('circle', {cx:xMap(lon).toFixed(1), cy:yMap(mapLats[i]).toFixed(1), r:7.4, fill:colorOf(mapTweets[i]), 'fill-opacity':.68}, layer);
    
    
  });
  const yBar = v => 854 - v * 2.01;
  const cb = mk('g', {}, svg);
  
  
  for (let v = 0; v < 102; v++){
    el = mk('rect', {x:506, y:yBar(v+1), width:27, height:2.6, fill:colorOf(v+.5)}, cb);
    
    
  }
  colorbarTicks.forEach(t => {
    el = mk('text', {x:536, y:yBar(t)+4.5, 'font-size':12, fill:'#2a3f5f'}, svg, t);
    
    
  });
})();

/* ---------- donut ---------- */
(function(){
  const svg = document.getElementById('pieSvg');
  const cx = 1276.3, cy = 737, R = 125, r = 37.3;
  const cols = ['#00998f','#8cf0ff','#5a00ff','#00ffff','#2a85f0'];
  const ink = ['#fff','#444','#fff','#444','#444'];
  const total = pieShares.reduce((a,b) => a+b, 0);
  const pt = (rad,a) => (cx + rad*Math.sin(a)).toFixed(2) + ' ' + (cy - rad*Math.cos(a)).toFixed(2);
  let acc = 0, el;
  pieShares.forEach((v,i) => {
    const a0 = acc/total*2*Math.PI;
    acc += v;
    const a1 = acc/total*2*Math.PI;
    const big = a1-a0 > Math.PI ? 1 : 0;
    el = mk('path', {d:'M'+pt(r,a0)+'L'+pt(R,a0)+'A'+R+' '+R+' 0 '+big+' 1 '+pt(R,a1)+'L'+pt(r,a1)+'A'+r+' '+r+' 0 '+big+' 0 '+pt(r,a0)+'Z', fill:cols[i]}, svg);
    
    
    const m = (a0+a1)/2;
    const lx = cx + 81*Math.sin(m), ly = cy - 81*Math.cos(m);
    el = mk('text', {x:lx, y:ly-4, 'font-size':12.5, 'font-weight':'bold', 'text-anchor':'middle', fill:ink[i]}, svg, pieLabels[i]);
    
    
    el = mk('text', {x:lx, y:ly+13, 'font-size':12.5, 'font-weight':'bold', 'text-anchor':'middle', fill:ink[i]}, svg, v.toFixed(1) + '%');
    
    
  });
})();
</script>
</body>
</html>
